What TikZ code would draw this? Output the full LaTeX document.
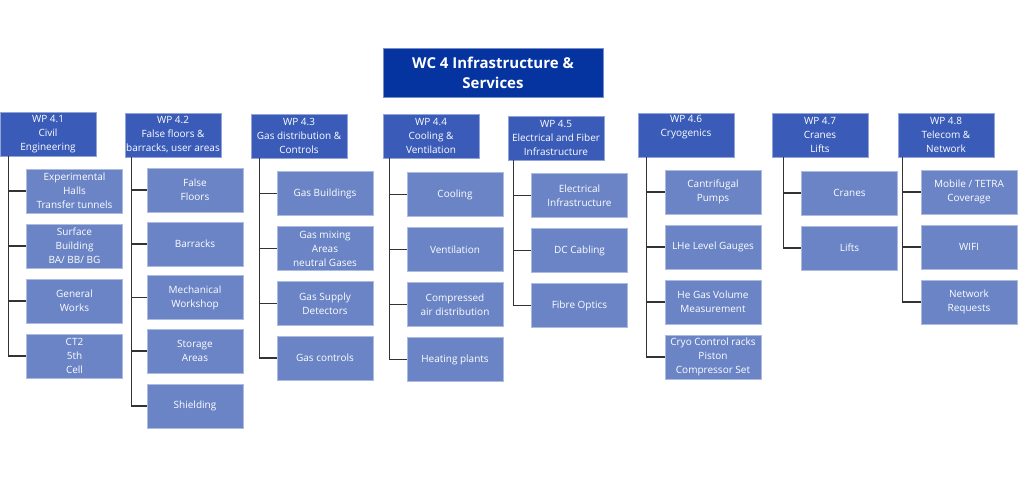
\documentclass[tikz,border=0pt]{standalone}
\usepackage{fontspec}
\setmainfont{Open Sans}
\usepackage{xcolor}
\usepackage{tikz}
\definecolor{wcblue}{HTML}{0533A0}
\definecolor{wpblue}{HTML}{3A5CB8}
\definecolor{itemblue}{HTML}{6A84C6}

\begin{document}
\begin{tikzpicture}[x=1pt,y=-1pt,
    wc/.style={shape=rectangle, fill=wcblue, draw=wcblue!55!white, line width=0.8pt, text=white,
      font=\bfseries\fontsize{15}{20}\selectfont, align=center,
      minimum width=220pt, minimum height=49pt, inner sep=0pt},
    wp/.style={shape=rectangle, fill=wpblue, draw=wpblue!55!white, line width=0.8pt, text=white,
      font=\fontsize{10}{14}\selectfont, align=center,
      minimum width=96pt, minimum height=44pt, inner sep=0pt},
    item/.style={shape=rectangle, fill=itemblue, draw=itemblue!55!white, line width=0.8pt, text=white,
      font=\fontsize{10}{14}\selectfont, align=center,
      minimum width=96pt, minimum height=44pt, inner sep=0pt},
    conn/.style={draw=black!80, line width=1.2pt}]
    \useasboundingbox (0,0) rectangle (1024,499);

    \node[wc] (wc4) at (493,72.5) {WC 4 Infrastructure \&\\Services};

    % work packages
    \node[wp] (wp41) at (48,134) {WP 4.1\\Civil\\Engineering};
    \node[wp] (wp42) at (173,135) {WP 4.2\\False floors \&\\barracks, user areas};
    \node[wp] (wp43) at (299,136) {WP 4.3\\Gas distribution \&\\Controls};
    \node[wp] (wp44) at (431,136) {WP 4.4\\Cooling \&\\Ventilation};
    \node[wp] (wp45) at (556,138) {WP 4.5\\Electrical and Fiber\\Infrastructure};
    \node[wp] (wp46) at (686,135) {WP 4.6\\Cryogenics\\\strut};
    \node[wp] (wp47) at (820,135) {WP 4.7\\Cranes\\Lifts};
    \node[wp] (wp48) at (946,135) {WP 4.8\\Telecom \&\\Network};

    % WP 4.1
    \node[item] (wp41a) at (74.5,191) {Experimental\\Halls\\Transfer tunnels};
    \node[item] (wp41b) at (74.5,246) {Surface\\Building\\BA/ BB/ BG};
    \node[item] (wp41c) at (74.5,301) {General\\Works};
    \node[item] (wp41d) at (74.5,356) {CT2\\5th\\Cell};
    % WP 4.2
    \node[item] (wp42a) at (195,190) {False\\Floors};
    \node[item] (wp42b) at (195,244) {Barracks};
    \node[item] (wp42c) at (195,297.5) {Mechanical\\Workshop};
    \node[item] (wp42d) at (195,351) {Storage\\Areas};
    \node[item] (wp42e) at (195,406) {Shielding};
    % WP 4.3
    \node[item] (wp43a) at (325,193.5) {Gas Buildings};
    \node[item] (wp43b) at (325,248.5) {Gas mixing\\Areas\\neutral Gases};
    \node[item] (wp43c) at (325,303.5) {Gas Supply\\Detectors};
    \node[item] (wp43d) at (325,358) {Gas controls};
    % WP 4.4
    \node[item] (wp44a) at (455,194.5) {Cooling};
    \node[item] (wp44b) at (455,249.5) {Ventilation};
    \node[item] (wp44c) at (455,304.5) {Compressed\\air distribution};
    \node[item] (wp44d) at (455,359.5) {Heating plants};
    % WP 4.5
    \node[item] (wp45a) at (579.5,195.5) {Electrical\\Infrastructure};
    \node[item] (wp45b) at (579.5,250.5) {DC Cabling};
    \node[item] (wp45c) at (579.5,305.5) {Fibre Optics};
    % WP 4.6
    \node[item] (wp46a) at (713,192) {Cantrifugal\\Pumps};
    \node[item] (wp46b) at (713,247) {LHe Level Gauges};
    \node[item] (wp46c) at (713,302) {He Gas Volume\\Measurement};
    \node[item] (wp46d) at (713,357) {Cryo Control racks\\Piston\\Compressor Set};
    % WP 4.7
    \node[item] (wp47a) at (849.5,193) {Cranes};
    \node[item] (wp47b) at (849.5,248) {Lifts};
    % WP 4.8
    \node[item] (wp48a) at (969,192) {Mobile / TETRA\\Coverage};
    \node[item] (wp48b) at (969,247) {WIFI};
    \node[item] (wp48c) at (969,302) {Network\\Requests};

    % connectors
    \foreach \c in {a,b,c,d} \draw[conn] (wp41.south west) ++(9,0) |- (wp41\c.west);
    \foreach \c in {a,b,c,d,e} \draw[conn] (wp42.south west) ++(7,0) |- (wp42\c.west);
    \foreach \c in {a,b,c,d} \draw[conn] (wp43.south west) ++(9,0) |- (wp43\c.west);
    \foreach \c in {a,b,c,d} \draw[conn] (wp44.south west) ++(7,0) |- (wp44\c.west);
    \foreach \c in {a,b,c} \draw[conn] (wp45.south west) ++(6,0) |- (wp45\c.west);
    \foreach \c in {a,b,c,d} \draw[conn] (wp46.south west) ++(9,0) |- (wp46\c.west);
    \foreach \c in {a,b} \draw[conn] (wp47.south west) ++(12,0) |- (wp47\c.west);
    \foreach \c in {a,b,c} \draw[conn] (wp48.south west) ++(5,0) |- (wp48\c.west);
\end{tikzpicture}
\end{document}
